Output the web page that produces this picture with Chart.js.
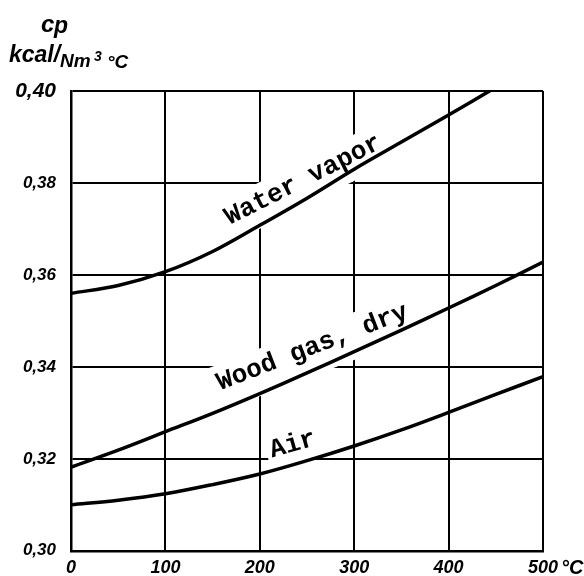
<!DOCTYPE html>
<html>
<head>
<meta charset="utf-8">
<script src="https://cdn.jsdelivr.net/npm/chart.js@4"></script>
<style>
  html, body { margin: 0; padding: 0; background: #fff; }
  #wrap { width: 584px; height: 576px; }
</style>
</head>
<body>
<div id="wrap"><canvas id="c" width="584" height="576"></canvas></div>
<script>
// Specific heat c_p (kcal/Nm³°C) versus temperature (°C)
const temperatures = [0, 50, 100, 150, 200, 250, 300, 350, 400, 450, 500];
const waterVapor   = [0.3560, 0.3577, 0.3607, 0.3651, 0.3708, 0.3767, 0.3830, 0.3889, 0.3948, 0.4008, 0.4070];
const woodGasDry   = [0.3182, 0.3219, 0.3259, 0.3299, 0.3342, 0.3387, 0.3433, 0.3480, 0.3528, 0.3577, 0.3628];
const air          = [0.3100, 0.3110, 0.3124, 0.3144, 0.3167, 0.3196, 0.3228, 0.3263, 0.3301, 0.3340, 0.3379];

const xTicks = [0, 100, 200, 300, 400, 500];
const yTicks = [0.30, 0.32, 0.34, 0.36, 0.38, 0.40];

const seriesNames = ['Water vapor', 'Wood gas, dry', 'Air'];
const seriesValues = [waterVapor, woodGasDry, air];

// baseline of each name: from temperature t0 (lifted l0 px above the curve) towards t1 (lifted l1 px)
const labelSpots = [
  { t0: 168, l0: 17, t1: 335, l1: 5 },
  { t0: 158, l0: 20, t1: 345, l1: 10 },
  { t0: 213, l0: 13, t1: 255, l1: 13 }
];

const tickFont = { family: 'Liberation Sans', size: 17, style: 'italic', weight: 'bold' };
const curveFontSize = 26;
const curveFont = 'bold ' + curveFontSize + 'px "Liberation Mono"';

function valueAt(values, t) {
  for (let i = 0; i < temperatures.length - 1; i++) {
    const t0 = temperatures[i], t1 = temperatures[i + 1];
    if (t >= t0 && t <= t1) {
      const f = (t - t0) / (t1 - t0);
      return values[i] + f * (values[i + 1] - values[i]);
    }
  }
  return values[values.length - 1];
}

function labelFrame(chart, k) {
  const xs = chart.scales.x, ys = chart.scales.y;
  const vals = seriesValues[k], s = labelSpots[k];
  const a = { x: xs.getPixelForValue(s.t0), y: ys.getPixelForValue(valueAt(vals, s.t0)) - s.l0 };
  const b = { x: xs.getPixelForValue(s.t1), y: ys.getPixelForValue(valueAt(vals, s.t1)) - s.l1 };
  return { a, angle: Math.atan2(b.y - a.y, b.x - a.x), lift: Math.max(s.l0, s.l1) };
}

const curveNames = {
  id: 'curveNames',
  beforeDatasetsDraw(chart) {
    // white strip behind each name, breaking the grid between the text and its curve
    const ctx = chart.ctx;
    ctx.save();
    ctx.font = curveFont;
    seriesNames.forEach((name, k) => {
      const f = labelFrame(chart, k);
      const w = ctx.measureText(name).width;
      ctx.save();
      ctx.translate(f.a.x, f.a.y);
      ctx.rotate(f.angle);
      ctx.fillStyle = '#fff';
      const top = -curveFontSize * 0.95;
      ctx.fillRect(-4, top, w + 8, f.lift - top);
      ctx.restore();
    });
    ctx.restore();
  },
  afterDatasetsDraw(chart) {
    const ctx = chart.ctx;
    ctx.save();
    ctx.font = curveFont;
    ctx.fillStyle = '#000';
    ctx.textAlign = 'left';
    ctx.textBaseline = 'alphabetic';
    seriesNames.forEach((name, k) => {
      const f = labelFrame(chart, k);
      ctx.save();
      ctx.translate(f.a.x, f.a.y);
      ctx.rotate(f.angle);
      ctx.fillText(name, 0, 0);
      ctx.restore();
    });
    ctx.restore();
  },
  afterDraw(chart) {
    // axis quantity and units
    const ctx = chart.ctx;
    ctx.save();
    ctx.fillStyle = '#000';
    ctx.textBaseline = 'alphabetic';
    ctx.textAlign = 'left';
    ctx.font = 'italic bold 24px "Liberation Sans"';
    ctx.fillText('c', 41, 32);
    ctx.font = 'italic bold 23px "Liberation Sans"';
    ctx.fillText('p', 54, 33);
    ctx.font = 'italic bold 23px "Liberation Sans"';
    ctx.fillText('kcal/', 9, 62);
    ctx.font = 'italic bold 19px "Liberation Sans"';
    ctx.fillText('Nm', 60, 67);
    ctx.font = 'italic bold 14px "Liberation Sans"';
    ctx.fillText('3', 94, 61);
    ctx.font = 'italic bold 19px "Liberation Sans"';
    ctx.fillText('°C', 107, 68);
    ctx.font = 'italic bold 20px "Liberation Sans"';
    ctx.fillText('°C', 561, 574);
    ctx.restore();
  }
};

const lineStyle = {
  borderColor: '#000',
  borderWidth: 3.5,
  pointRadius: 0,
  fill: false,
  tension: 0.35
};

new Chart(document.getElementById('c'), {
  type: 'line',
  data: {
    datasets: seriesValues.map((vals, k) => Object.assign({
      label: seriesNames[k],
      data: temperatures.map((t, i) => ({ x: t, y: vals[i] }))
    }, lineStyle))
  },
  options: {
    responsive: false,
    devicePixelRatio: 1,
    animation: false,
    layout: { padding: { top: 91, right: 41, left: 0, bottom: 0 } },
    plugins: { legend: { display: false }, tooltip: { enabled: false } },
    scales: {
      x: {
        type: 'linear',
        min: 0,
        max: 500,
        afterBuildTicks: s => { s.ticks = xTicks.map(v => ({ value: v })); },
        afterFit: s => { s.height = 24; },
        ticks: { color: '#000', font: Object.assign({}, tickFont, { size: 18 }), padding: 6, maxRotation: 0 },
        grid: { color: '#000', lineWidth: 2, drawTicks: false },
        border: { display: true, color: '#000', width: 2.5 }
      },
      y: {
        min: 0.30,
        max: 0.40,
        afterBuildTicks: s => { s.ticks = yTicks.map(v => ({ value: v })); },
        afterFit: s => { s.width = 71; },
        ticks: {
          color: '#000',
          padding: 15,
          font: c => (c.tick && c.tick.value > 0.399) ? Object.assign({}, tickFont, { size: 21 }) : tickFont,
          callback: v => Number(v).toFixed(2).replace('.', ',')
        },
        grid: { color: '#000', lineWidth: 2, drawTicks: false },
        border: { display: true, color: '#000', width: 2.5 }
      }
    }
  },
  plugins: [curveNames]
});
</script>
</body>
</html>
